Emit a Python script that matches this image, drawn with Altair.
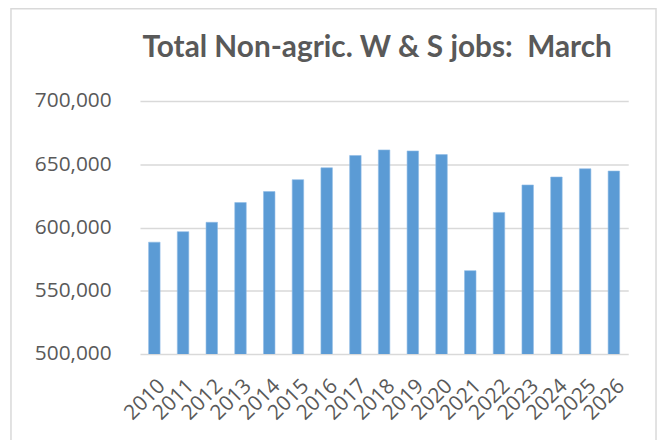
import altair as alt
import pandas as pd

years = [str(y) for y in range(2010, 2027)]
jobs = [588400, 596700, 604100, 619700, 628400, 637800, 647200, 656900, 661300,
        660500, 657600, 565900, 611900, 633600, 639900, 646400, 644600]
title_text = "Total Non-agric. W & S jobs:\u00a0 March"

df = pd.DataFrame({"year": years, "jobs": jobs})

TEXT = "#595959"
GRID = "#d9d9d9"

bars = alt.Chart(df).mark_bar(color="#5b9bd5", stroke="#8fbbe6", strokeWidth=0.6, clip=True).encode(
    x=alt.X("year:N", sort=years,
            scale=alt.Scale(paddingInner=0.6, paddingOuter=0.3),
            axis=alt.Axis(title=None, labelAngle=-45, labelFont="Open Sans",
                          labelFontSize=21, labelColor=TEXT, ticks=False,
                          domain=False, labelPadding=21)),
    y=alt.Y("jobs:Q", scale=alt.Scale(domain=[500000, 700000], nice=False, zero=False),
            axis=alt.Axis(title=None, values=[500000, 550000, 600000, 650000, 700000],
                          format=",.0f", labelFont="Open Sans", labelFontSize=21,
                          labelColor=TEXT, ticks=False, domain=False, labelPadding=29,
                          gridColor=GRID, gridWidth=1.5)),
)

border = alt.Chart(alt.Data(values=[{"b": 1}])).mark_rect(
    fill=None, stroke=GRID, strokeWidth=1.5, clip=False
).encode(
    x=alt.value(-130), x2=alt.value(520),
    y=alt.value(-93), y2=alt.value(360),
)

title = alt.Chart(alt.Data(values=[{"t": title_text}])).mark_text(
    font="Lato", fontSize=30, fontWeight="bold", color=TEXT,
    align="center", baseline="alphabetic", clip=False
).encode(
    x=alt.value(239), y=alt.value(-44), text="t:N"
)

chart = alt.layer(border, bars, title).properties(
    width=492, height=255,
    autosize=alt.AutoSizeParams(type="none"),
    padding={"left": 133, "top": 92, "right": 30, "bottom": 90},
).configure_view(stroke=None)

chart.save("out.html", embed_options={"renderer": "svg", "actions": False})
